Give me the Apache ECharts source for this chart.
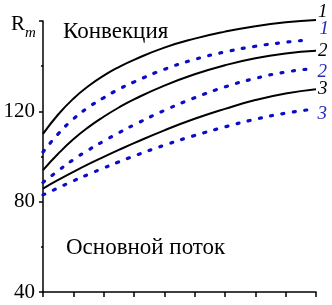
<!DOCTYPE html>
<html>
<head>
<meta charset="utf-8">
<script src="https://cdn.jsdelivr.net/npm/echarts@6/dist/echarts.min.js"></script>
<style>html,body{margin:0;padding:0;background:#fff;}#c{width:332px;height:305px;}</style>
</head>
<body>
<div id="c"></div>
<script>
// x positions (tick units, 0..9)
const xsFull  = [0, 0.5, 1, 1.5, 2, 2.5, 3, 4, 5, 6, 7, 8, 9];
const xsD1    = [0, 0.5, 1, 1.5, 2, 2.5, 3, 4, 5, 6, 7, 8, 8.75];
const xsD23   = [0, 0.5, 1, 1.5, 2, 2.5, 3, 4, 5, 6, 7, 8, 8.95];
// Rm values
const solid1  = [110, 118.6, 125.6, 131.2, 135.8, 139.6, 142.8, 148.2, 152.2, 155.3, 157.7, 159.4, 160.4];
const dotted1 = [102, 110, 116.6, 121.8, 126, 129.8, 133, 138.6, 143, 146.3, 148.8, 150.6, 151.6];
const solid2  = [94, 101.2, 107.6, 113, 117.6, 121.7, 125.3, 131.4, 136.4, 140.4, 143.5, 145.6, 146.8];
const dotted2 = [88.5, 93.7, 98.6, 102.9, 106.8, 110.5, 114, 120.4, 126, 130.8, 134.6, 137.4, 139];
const solid3  = [85.8, 89.6, 93.2, 96.6, 99.8, 102.9, 105.9, 111.6, 116.7, 121.1, 125, 127.9, 129.8];
const dotted3 = [83, 86.1, 89.2, 92.1, 94.9, 97.6, 100.2, 105, 109.3, 113.1, 116.5, 119.2, 121];
const curveLabels = ['1', '1', '2', '2', '3', '3'];
const yTickLabels = {40: '40', 80: '80', 120: '120'};
const textTop = 'Конвекция';
const textBottom = 'Основной поток';

const SERIF = '"Liberation Serif", "DejaVu Serif", serif';
const BLUE = '#0c0cc8';
const BLUE_TXT = '#2a2ab8';

function pairs(xs, ys) { return xs.map((x, i) => [x, ys[i]]); }

function solidSeries(xs, ys, lbl, off) {
  return {
    type: 'line', data: pairs(xs, ys), showSymbol: false, smooth: 0.5,
    clip: false, silent: true,
    lineStyle: { color: '#000', width: 2 },
    endLabel: { show: true, formatter: lbl, fontFamily: SERIF, fontStyle: 'italic', fontSize: 19,
      color: '#000', distance: 2, offset: off }
  };
}
function dottedSeries(xs, ys, lbl, off) {
  return {
    type: 'line', data: pairs(xs, ys), showSymbol: false, smooth: 0.5,
    clip: false, silent: true,
    lineStyle: { color: BLUE, width: 3.2, type: [2, 9.5], cap: 'round' },
    endLabel: { show: true, formatter: lbl, fontFamily: SERIF, fontStyle: 'italic', fontSize: 19,
      color: BLUE_TXT, distance: 2, offset: off }
  };
}

const chart = echarts.init(document.getElementById('c'), null, { renderer: 'canvas' });
chart.setOption({
  animation: false,
  backgroundColor: '#fff',
  grid: { left: 43, right: 16, top: 21, bottom: 13, outerBoundsMode: 'none', containLabel: false },
  xAxis: {
    type: 'value', min: 0, max: 9, interval: 1,
    axisLine: { show: true, lineStyle: { color: '#000', width: 1.5 } },
    axisTick: { show: true, length: 5, lineStyle: { color: '#000', width: 1.5 } },
    axisLabel: { show: false },
    splitLine: { show: false }
  },
  yAxis: {
    type: 'value', min: 40, max: 160, interval: 40,
    axisLine: { show: true, lineStyle: { color: '#000', width: 1.5 } },
    axisTick: { show: true, length: 4, lineStyle: { color: '#000', width: 1.5 } },
    minorTick: { show: true, splitNumber: 2, length: 2, lineStyle: { color: '#000', width: 1.5 } },
    axisLabel: { show: true, margin: 8, fontFamily: SERIF, fontSize: 21, color: '#000',
      formatter: v => yTickLabels[v] || '' },
    splitLine: { show: false }
  },
  series: [
    solidSeries(xsFull, solid1, curveLabels[0], [0, -8]),
    dottedSeries(xsD1, dotted1, curveLabels[1], [9, -11]),
    solidSeries(xsFull, solid2, curveLabels[2], [0, 0]),
    dottedSeries(xsD23, dotted2, curveLabels[3], [1, 4]),
    solidSeries(xsFull, solid3, curveLabels[4], [0, 0]),
    dottedSeries(xsD23, dotted3, curveLabels[5], [1, 5])
  ],
  graphic: [
    { type: 'text', left: 63, top: 20, silent: true,
      style: { text: textTop, font: '23px ' + SERIF, fill: '#000' } },
    { type: 'text', left: 66, top: 236, silent: true,
      style: { text: textBottom, font: '23px ' + SERIF, fill: '#000' } },
    { type: 'text', left: 11, top: 14, silent: true,
      style: { text: '{r|R}{m|m}', rich: {
        r: { fontFamily: SERIF, fontSize: 21, fill: '#000', verticalAlign: 'bottom' },
        m: { fontFamily: SERIF, fontSize: 15, fontStyle: 'italic', fill: '#000', verticalAlign: 'bottom', padding: [0, 0, -6, 0] }
      } } }
  ]
});
</script>
</body>
</html>
